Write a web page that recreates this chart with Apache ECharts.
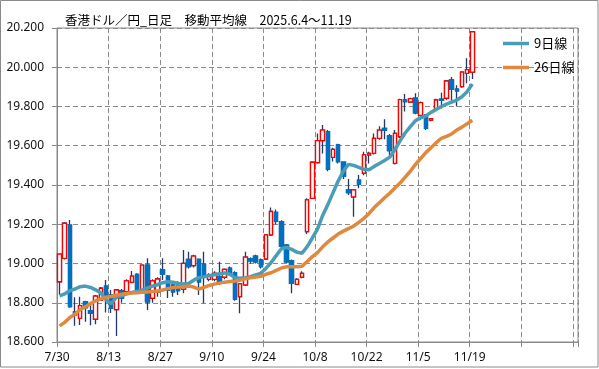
<!DOCTYPE html>
<html>
<head>
<meta charset="utf-8">
<script src="https://cdn.jsdelivr.net/npm/echarts@6/dist/echarts.min.js"></script>
<style>
html,body{margin:0;padding:0;background:#fff;}
#c{width:599px;height:369px;}
</style>
</head>
<body>
<div id="c"></div>
<script>
const titleText = '香港ドル／円_日足　移動平均線　2025.6.4～11.19';
const dates = ['7/30','7/31','8/1','8/4','8/5','8/6','8/7','8/8','8/11','8/12','8/13','8/14','8/15','8/18','8/19','8/20','8/21','8/22','8/25','8/26','8/27','8/28','8/29','9/1','9/2','9/3','9/4','9/5','9/8','9/9','9/10','9/11','9/12','9/15','9/16','9/17','9/18','9/19','9/22','9/23','9/24','9/25','9/26','9/29','9/30','10/1','10/2','10/3','10/6','10/7','10/8','10/9','10/10','10/13','10/14','10/15','10/16','10/17','10/20','10/21','10/22','10/23','10/24','10/27','10/28','10/29','10/30','10/31','11/3','11/4','11/5','11/6','11/7','11/10','11/11','11/12','11/13','11/14','11/17','11/18','11/19'];
const blankSlots = 20;
const openV = [18.907,19.026,19.196,18.754,18.72,18.805,18.76,18.716,18.814,18.885,
18.839,18.765,18.86,18.856,18.904,18.945,18.86,18.992,18.823,18.856,
18.967,18.936,18.89,18.895,18.869,19.021,18.989,19.021,18.996,18.919,
18.919,18.933,18.93,18.976,18.953,18.831,18.891,19.023,19.038,19.018,
19.023,19.146,19.26,19.213,19.094,19.013,18.894,18.93,19.162,19.332,
19.514,19.626,19.672,19.541,19.604,19.516,19.375,19.34,19.425,19.46,
19.553,19.561,19.638,19.689,19.65,19.51,19.646,19.833,19.823,19.842,
19.755,19.757,19.731,19.786,19.838,19.842,19.935,19.888,19.901,19.969,
19.975];
const closeV = [19.048,19.205,18.78,18.738,18.785,18.775,18.746,18.834,18.874,18.84,
18.772,18.865,18.822,18.911,18.936,18.86,18.992,18.805,18.911,18.921,
18.946,18.865,18.856,18.862,19.001,18.984,19.038,18.907,18.93,18.941,
18.95,18.899,18.97,18.95,18.819,18.896,19.032,19.014,19.009,18.984,
19.146,19.265,19.215,19.089,19.009,18.899,18.919,18.95,19.324,19.516,
19.626,19.68,19.48,19.582,19.519,19.444,19.361,19.375,19.405,19.553,
19.561,19.638,19.68,19.68,19.575,19.663,19.835,19.825,19.84,19.768,
19.82,19.689,19.738,19.833,19.831,19.93,19.888,19.88,19.975,19.988,
20.181];
const lowV = [18.839,19.02,18.775,18.683,18.687,18.703,18.685,18.69,18.81,18.75,
18.748,18.63,18.80,18.85,18.90,18.845,18.855,18.763,18.80,18.83,
18.916,18.824,18.831,18.84,18.848,18.975,18.98,18.839,18.797,18.91,
18.91,18.89,18.92,18.94,18.81,18.746,18.885,19.0,19.0,18.975,
19.02,19.14,19.20,19.08,19.0,18.848,18.89,18.925,19.15,19.33,
19.51,19.561,19.47,19.52,19.51,19.43,19.349,19.238,19.383,19.45,
19.51,19.555,19.63,19.633,19.545,19.505,19.64,19.775,19.82,19.76,
19.75,19.68,19.725,19.78,19.79,19.835,19.82,19.80,19.895,19.918,
19.94];
const highV = [19.048,19.21,19.222,18.828,18.83,18.81,18.805,18.84,18.88,18.916,
18.865,18.87,18.87,18.92,18.962,18.95,18.995,19.027,18.92,18.93,
19.027,18.94,18.90,18.91,19.069,19.06,19.045,19.025,19.06,18.95,
18.96,19.009,18.975,18.985,18.96,18.90,19.06,19.03,19.045,19.025,
19.15,19.285,19.275,19.22,19.10,19.02,18.925,18.96,19.332,19.52,
19.663,19.706,19.68,19.59,19.61,19.52,19.43,19.38,19.451,19.57,
19.57,19.663,19.70,19.735,19.66,19.68,19.84,19.864,19.845,19.868,
19.825,19.757,19.742,19.84,19.87,19.935,19.95,19.908,19.98,20.046,
20.185];
const ma9 = [18.835,18.845,18.862,18.870,18.882,18.885,18.878,18.866,18.850,18.815,
18.795,18.828,18.835,18.845,18.852,18.858,18.865,18.875,18.885,18.892,
18.902,18.907,18.905,18.898,18.895,18.898,18.915,18.928,18.932,18.938,
18.943,18.948,18.952,18.945,18.928,18.925,18.928,18.933,18.942,18.950,
18.975,19.005,19.040,19.075,19.082,19.072,19.058,19.052,19.086,19.130,
19.175,19.245,19.300,19.360,19.420,19.470,19.505,19.500,19.490,19.480,
19.478,19.495,19.510,19.525,19.542,19.580,19.625,19.665,19.697,19.728,
19.742,19.752,19.770,19.785,19.800,19.812,19.822,19.833,19.850,19.875,
19.915];
const ma26 = [18.682,18.700,18.725,18.742,18.765,18.780,18.795,18.810,18.820,18.828,
18.832,18.838,18.843,18.847,18.850,18.851,18.853,18.855,18.857,18.860,
18.865,18.872,18.878,18.880,18.882,18.885,18.880,18.870,18.878,18.888,
18.895,18.900,18.905,18.908,18.911,18.915,18.922,18.927,18.931,18.935,
18.945,18.953,18.965,18.977,18.983,18.984,18.984,18.986,19.010,19.035,
19.055,19.085,19.110,19.130,19.150,19.165,19.178,19.190,19.210,19.230,
19.255,19.285,19.310,19.335,19.358,19.385,19.410,19.440,19.470,19.505,
19.535,19.565,19.590,19.615,19.638,19.648,19.660,19.680,19.695,19.712,
19.730];
const seriesNames = ['9日線', '26日線'];
const yMin = 18.6, yMax = 20.2, yStep = 0.2;

const categories = dates.concat(new Array(blankSlots).fill(''));
const wickData = openV.map((o, i) => [o, closeV[i], lowV[i], highV[i]]);
const bodyData = openV.map((o, i) => [o, closeV[i], Math.min(o, closeV[i]), Math.max(o, closeV[i])]);

const GRAY = '#8a8a8a';
const FONT = '"Noto Sans", "Noto Sans CJK JP", sans-serif';
const chart = echarts.init(document.getElementById('c'), null, {renderer: 'canvas'});
chart.setOption({
  animation: false,
  backgroundColor: '#fff',
  textStyle: {fontFamily: FONT},
  title: {
    text: titleText, left: 60, top: 9,
    textStyle: {fontSize: 12.5, fontWeight: 'normal', color: '#000', fontFamily: '"Noto Sans CJK JP", sans-serif'}
  },
  legend: {
    data: seriesNames.map(n => ({name: n, icon: 'rect'})),
    orient: 'vertical', left: 498, top: 32,
    itemWidth: 26, itemHeight: 3.5, itemGap: 11,
    selectedMode: false,
    textStyle: {fontSize: 13, color: '#000', fontFamily: '"Noto Sans CJK JP", sans-serif'}
  },
  grid: {left: 57, right: 21, top: 28, bottom: 27, show: true, borderColor: GRAY, borderWidth: 1, backgroundColor: 'transparent'},
  xAxis: {
    type: 'category', data: categories, boundaryGap: true,
    axisLine: {lineStyle: {color: GRAY}},
    axisTick: {show: true, interval: 9, length: 5, lineStyle: {color: GRAY}},
    axisLabel: {interval: 9, margin: 10, fontSize: 12, color: '#111', padding: [0, 5, 0, 0]},
    splitLine: {show: true, interval: 9, lineStyle: {color: GRAY, type: [5, 3], width: 1}}
  },
  yAxis: {
    type: 'value', min: yMin, max: yMax, interval: yStep,
    axisLine: {show: true, lineStyle: {color: GRAY}},
    axisTick: {show: true, length: 5, lineStyle: {color: GRAY}},
    axisLabel: {margin: 13, fontSize: 12, color: '#111', formatter: v => v.toFixed(3)},
    splitLine: {show: true, lineStyle: {color: GRAY, type: [5, 3], width: 1}}
  },
  graphic: [{
    type: 'rect', silent: true, z: 100,
    shape: {x: 0.5, y: 0.5, width: 597.5, height: 366.5},
    style: {fill: 'none', stroke: GRAY, lineWidth: 1}
  }],
  series: [
    {
      type: 'candlestick', name: 'wick', data: wickData, barWidth: 4, z: 2,
      itemStyle: {color: '#1F3864', color0: '#1F3864', borderColor: '#1F3864', borderColor0: '#1F3864', borderWidth: 1.3}
    },
    {
      type: 'candlestick', name: 'body', data: bodyData, barWidth: 4, z: 3,
      itemStyle: {color: '#ffffff', color0: '#0070C0', borderColor: '#FF0000', borderColor0: '#0070C0', borderWidth: 1.3}
    },
    {
      type: 'line', name: seriesNames[0], data: ma9, symbol: 'none', z: 4,
      color: '#4A9DB6',
      lineStyle: {width: 3.5, color: '#4A9DB6'}
    },
    {
      type: 'line', name: seriesNames[1], data: ma26, symbol: 'none', z: 5,
      color: '#E0883D',
      lineStyle: {width: 3.5, color: '#E0883D'}
    }
  ]
});
</script>
</body>
</html>
